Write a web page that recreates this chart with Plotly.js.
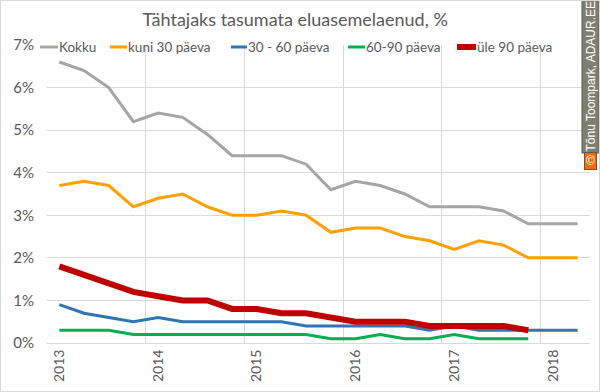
<!DOCTYPE html>
<html>
<head>
<meta charset="utf-8">
<script src="https://cdn.plot.ly/plotly-3.0.1.min.js"></script>
<style>
html,body{margin:0;padding:0;background:#fff;}
#chart{width:598px;height:390px;border:1px solid #D9D9D9;}
</style>
</head>
<body>
<div id="chart"></div>
<script>
// Quarterly data, 2013 Q1 .. 2018 Q2 (values in %)
const quarters = ["2013 Q1","2013 Q2","2013 Q3","2013 Q4","2014 Q1","2014 Q2","2014 Q3","2014 Q4",
  "2015 Q1","2015 Q2","2015 Q3","2015 Q4","2016 Q1","2016 Q2","2016 Q3","2016 Q4",
  "2017 Q1","2017 Q2","2017 Q3","2017 Q4","2018 Q1","2018 Q2"];
const kokku   = [6.6,6.4,6.0,5.2,5.4,5.3,4.9,4.4,4.4,4.4,4.2,3.6,3.8,3.7,3.5,3.2,3.2,3.2,3.1,2.8,2.8,2.8];
const kuni30  = [3.7,3.8,3.7,3.2,3.4,3.5,3.2,3.0,3.0,3.1,3.0,2.6,2.7,2.7,2.5,2.4,2.2,2.4,2.3,2.0,2.0,2.0];
const p30_60  = [0.9,0.7,0.6,0.5,0.6,0.5,0.5,0.5,0.5,0.5,0.4,0.4,0.4,0.4,0.4,0.3,0.4,0.3,0.3,0.3,0.3,0.3];
const p60_90  = [0.3,0.3,0.3,0.2,0.2,0.2,0.2,0.2,0.2,0.2,0.2,0.1,0.1,0.2,0.1,0.1,0.2,0.1,0.1,0.1];
const yle90   = [1.8,1.6,1.4,1.2,1.1,1.0,1.0,0.8,0.8,0.7,0.7,0.6,0.5,0.5,0.5,0.4,0.4,0.4,0.4,0.3];
const seriesNames = ['Kokku','kuni 30 päeva','30 - 60 päeva','60-90 päeva','üle 90 päeva'];
const yearTicks = ["2013","2014","2015","2016","2017","2018"];
const yTicks = [0,1,2,3,4,5,6,7];

const xi = arr => arr.map((_, i) => i);
const txt = '#595959';
const font = 'Lato, "Open Sans", sans-serif';

const values = [kokku, kuni30, p30_60, p60_90, yle90];
const colors = ['#A5A5A5','#FFA000','#2E75B6','#00B050','#C00000'];
const widths = [3,3,3,3,6];
const traces = values.map((v, k) => ({
  type:'scatter', mode:'lines', name:seriesNames[k], x:xi(v), y:v,
  line:{color:colors[k], width:widths[k]}, hoverinfo:'skip', showlegend:false
}));

const tickIdx = yearTicks.map(y => quarters.indexOf(y + " Q1"));
const gridIdx = tickIdx.slice(1).map(i => i - 0.5);

// Legend layout (pixel positions on the page, converted to paper fractions)
const L = 47, W = 543, T = 45, H = 298;
const px = p => (p - L) / W;
const py = p => (T + H - p) / H;
const legLine = [[40,58],[110,127],[231,247],[348,365],[457,476]];
const legText = [59,128,248,366,477];
const legY = 47;

const shapes = legLine.map((s, k) => ({
  type:'line', xref:'paper', yref:'paper', x0:px(s[0]), x1:px(s[1]), y0:py(legY), y1:py(legY),
  line:{color:colors[k], width:widths[k]}
}));
const annotations = seriesNames.map((n, k) => ({
  text:n, xref:'paper', yref:'paper', x:px(legText[k] - 2), y:py(legY), xanchor:'left', yanchor:'middle',
  showarrow:false, font:{family:font, size:13.5, color:txt}
}));
annotations.push(
  {text:'Tõnu Toompark, ADAUR.EE', textangle:-90, xref:'paper', yref:'paper', x:px(590.5), y:py(76),
   xanchor:'center', yanchor:'middle', showarrow:false, bgcolor:'#7F7F70', bordercolor:'#5A5A50', borderwidth:1,
   borderpad:1, font:{family:'"Liberation Sans", Arial, sans-serif', size:12, color:'#ffffff'}},
  {text:'©', xref:'paper', yref:'paper', x:px(590.5), y:py(161), xanchor:'center', yanchor:'middle',
   showarrow:false, bgcolor:'#FF6A00', bordercolor:'#5A5A50', borderwidth:1, borderpad:1,
   font:{family:'"Liberation Sans", Arial, sans-serif', size:12, color:'#ffffff'}}
);

const layout = {
  width:598, height:390,
  margin:{l:46, r:9, t:44, b:48},
  paper_bgcolor:'#fff', plot_bgcolor:'#fff',
  font:{family:font, color:txt, size:14},
  title:{text:'Tähtajaks tasumata eluasemelaenud, %', x:0.492, xanchor:'center', y:1 - 19/390, yanchor:'middle',
    font:{family:font, size:18, color:txt}},
  showlegend:false,
  xaxis:{range:[-0.5, quarters.length-0.5], tickvals:tickIdx, ticktext:yearTicks, tickangle:-90,
    showgrid:false, zeroline:false, showline:true, linecolor:'#D9D9D9', linewidth:1,
    ticks:'', tickfont:{family:font, size:14, color:txt},
    minor:{tickvals:gridIdx, showgrid:true, gridcolor:'#D9D9D9', gridwidth:1, ticks:''}},
  yaxis:{range:[0,7], tickvals:yTicks, ticktext:yTicks.map(v => v + '%'), showgrid:true, gridcolor:'#D9D9D9', gridwidth:1,
    zeroline:false, showline:false, ticks:'', ticklabelstandoff:12,
    tickfont:{family:font, size:15, color:txt}},
  shapes:shapes,
  annotations:annotations
};

Plotly.newPlot('chart', traces, layout, {displayModeBar:false, staticPlot:true});
</script>
</body>
</html>
